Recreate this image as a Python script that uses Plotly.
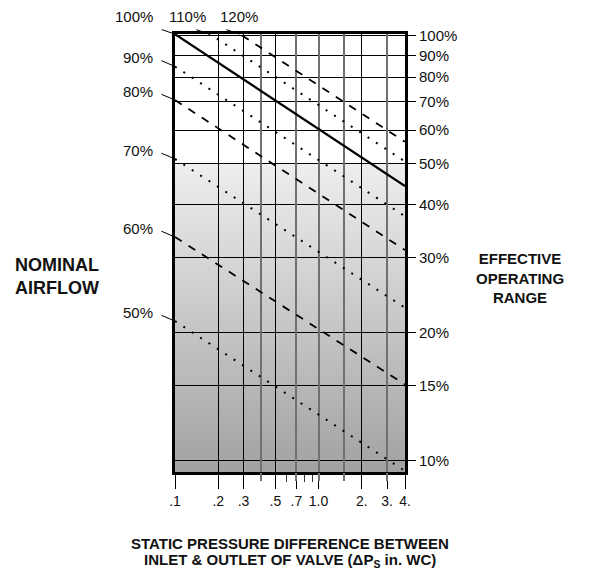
import math
import zlib
import struct
import base64
import plotly.graph_objects as go

# ---------------- data ----------------
line_labels = ["120%", "110%", "100%", "90%", "80%", "70%", "60%", "50%"]
line_start = [127.0, 114.2, 100.9, 84.7, 70.6, 51.3, 33.6, 21.3]   # effective % at dP = 0.1
line_end = [56.3, 50.6, 44.3, 37.6, 31.3, 22.9, 15.1, 9.45]         # effective % at dP = 4
line_kind = ["dash", "dot", "solid", "dot", "dash", "dot", "dash", "dot"]
x_first, x_last = 0.1, 4.0

x_tickvals = [0.1, 0.2, 0.3, 0.5, 0.7, 1.0, 2.0, 3.0, 4.0]
x_ticktext = [".1", ".2", ".3", ".5", ".7", "1.0", "2.", "3.", "4."]
x_minor_ticks = [0.6, 0.8, 0.9]
x_grid_dark = [0.2, 0.3, 0.5, 2.0]
x_grid_gray = [0.4, 0.7, 1.0, 1.5, 3.0]
y_tickvals = [100, 90, 80, 70, 60, 50, 40, 30, 20, 15, 10]
y_ticktext = [f"{v}%" for v in y_tickvals]
shade_from = 50  # shading starts below this value

# ---------------- styles ----------------
FONT = "Liberation Sans, Arial, sans-serif"
W, H = 588, 563
M = dict(l=167, r=191, t=26, b=99, pad=0)
Y_LOG_RANGE = [0.97304, 2.00436]
X_LOG_RANGE = [math.log10(x_first), math.log10(x_last)]
dash_style = {"solid": dict(width=2.3, dash="solid"),
              "dash": dict(width=1.8, dash="8px,8px"),
              "dot": dict(width=2.0, dash="2px,8px")}
# label box placement relative to where the line enters the chart:
# (xanchor, yanchor, ax, ay, leader start standoff) in pixels
label_place = {"120%": ("left", "bottom", -22, -7, 9),
               "110%": ("center", "bottom", -22, -7, 9),
               "100%": ("right", "bottom", -20, -7, 7)}
default_place = ("right", "middle", -20, -8.5, 7)


def gradient_png(top_gray, bottom_gray, h=256):
    raw = b"".join(b"\x00" + bytes([int(round(top_gray + (bottom_gray - top_gray) * i / (h - 1)))])
                   for i in range(h))

    def chunk(t, d):
        c = struct.pack(">I", len(d)) + t + d
        return c + struct.pack(">I", zlib.crc32(t + d) & 0xffffffff)

    png = (b"\x89PNG\r\n\x1a\n" + chunk(b"IHDR", struct.pack(">IIBBBBB", 1, h, 8, 0, 0, 0, 0))
           + chunk(b"IDAT", zlib.compress(raw)) + chunk(b"IEND", b""))
    return "data:image/png;base64," + base64.b64encode(png).decode()


fig = go.Figure()

# overlay axes carrying the two kinds of vertical grid lines
fig.add_trace(go.Scatter(x=[], y=[], xaxis="x2", yaxis="y", showlegend=False, hoverinfo="skip"))
fig.add_trace(go.Scatter(x=[], y=[], xaxis="x3", yaxis="y", showlegend=False, hoverinfo="skip"))

for lab, s, e, k in zip(line_labels, line_start, line_end, line_kind):
    fig.add_trace(go.Scatter(x=[x_first, x_last], y=[s, e], mode="lines",
                             line=dict(color="black", **dash_style[k]),
                             showlegend=False, hoverinfo="skip"))

# labels with leader lines pointing at where each line enters the chart
annotations = []
for lab, s, e in zip(line_labels, line_start, line_end):
    lx0, lx1 = X_LOG_RANGE
    ly0, ly1 = math.log10(s), math.log10(e)
    if ly0 > Y_LOG_RANGE[1]:
        t = (ly0 - Y_LOG_RANGE[1]) / (ly0 - ly1)
        ax_, ay_ = lx0 + t * (lx1 - lx0), Y_LOG_RANGE[1]
    else:
        ax_, ay_ = lx0, ly0
    xa, ya, dx, dy, sso = label_place.get(lab, default_place)
    annotations.append(dict(x=ax_, y=ay_, xref="x", yref="y", text=lab,
                            showarrow=True, arrowhead=0, arrowwidth=1, arrowcolor="black",
                            ax=dx, ay=dy, standoff=0, startstandoff=sso,
                            xanchor=xa, yanchor=ya,
                            font=dict(size=15, color="#111", family=FONT)))

annotations += [
    dict(x=-0.704, y=0.4458, xref="paper", yref="paper", text="<b>NOMINAL<br>AIRFLOW</b>",
         showarrow=False, xanchor="left", yanchor="middle", align="left",
         font=dict(size=18, color="#111", family=FONT)),
    dict(x=1.5, y=0.444, xref="paper", yref="paper",
         text="<b>EFFECTIVE<br>OPERATING<br>RANGE</b>", showarrow=False,
         xanchor="center", yanchor="middle", align="center",
         font=dict(size=15, color="#111", family=FONT)),
    dict(x=0.5, y=-0.163, xref="paper", yref="paper",
         text="<b>STATIC PRESSURE DIFFERENCE BETWEEN</b>", showarrow=False,
         xanchor="center", yanchor="middle", font=dict(size=15, color="#111", family=FONT)),
    dict(x=0.5, y=-0.2015, xref="paper", yref="paper",
         text="<b>INLET &amp; OUTLET OF VALVE (ΔP<sub>S</sub> in. WC)</b>", showarrow=False,
         xanchor="center", yanchor="middle", font=dict(size=15, color="#111", family=FONT)),
]

frac = (math.log10(shade_from) - Y_LOG_RANGE[0]) / (Y_LOG_RANGE[1] - Y_LOG_RANGE[0])

fig.update_layout(
    width=W, height=H, autosize=False,
    margin=M,
    paper_bgcolor="white", plot_bgcolor="white",
    font=dict(family=FONT, color="#111"),
    showlegend=False,
    annotations=annotations,
    images=[dict(source=gradient_png(238, 162), xref="paper", yref="paper",
                 x=0, y=frac, sizex=1, sizey=frac, xanchor="left", yanchor="top",
                 sizing="stretch", layer="below")],
    xaxis=dict(type="log", range=X_LOG_RANGE, tickvals=x_tickvals, ticktext=x_ticktext,
               ticks="outside", ticklen=14, tickwidth=1, tickcolor="black",
               showgrid=False, zeroline=False,
               showline=True, linewidth=3, linecolor="black", mirror=True,
               tickfont=dict(size=14, color="#111", family=FONT),
               minor=dict(tickvals=x_minor_ticks, ticks="outside", ticklen=7,
                          tickwidth=1, tickcolor="#333", showgrid=False)),
    xaxis2=dict(type="log", range=X_LOG_RANGE, overlaying="x", anchor="y",
                tickvals=x_grid_dark, showgrid=True, gridcolor="black", gridwidth=1,
                showticklabels=False, ticks="", showline=False, zeroline=False),
    xaxis3=dict(type="log", range=X_LOG_RANGE, overlaying="x", anchor="y",
                tickvals=x_grid_gray, showgrid=True, gridcolor="#707070", gridwidth=1.7,
                showticklabels=False, ticks="outside", ticklen=8, tickwidth=1.7,
                tickcolor="#707070", showline=False, zeroline=False),
    yaxis=dict(type="log", range=Y_LOG_RANGE, side="right", tickvals=y_tickvals,
               ticktext=y_ticktext, ticks="outside", ticklen=8, tickwidth=1,
               tickcolor="black", showgrid=True, gridcolor="black", gridwidth=1,
               zeroline=False, showline=True, linewidth=3, linecolor="black", mirror=True,
               tickfont=dict(size=15, color="#111", family=FONT)),
)

fig.write_html("out.html")
